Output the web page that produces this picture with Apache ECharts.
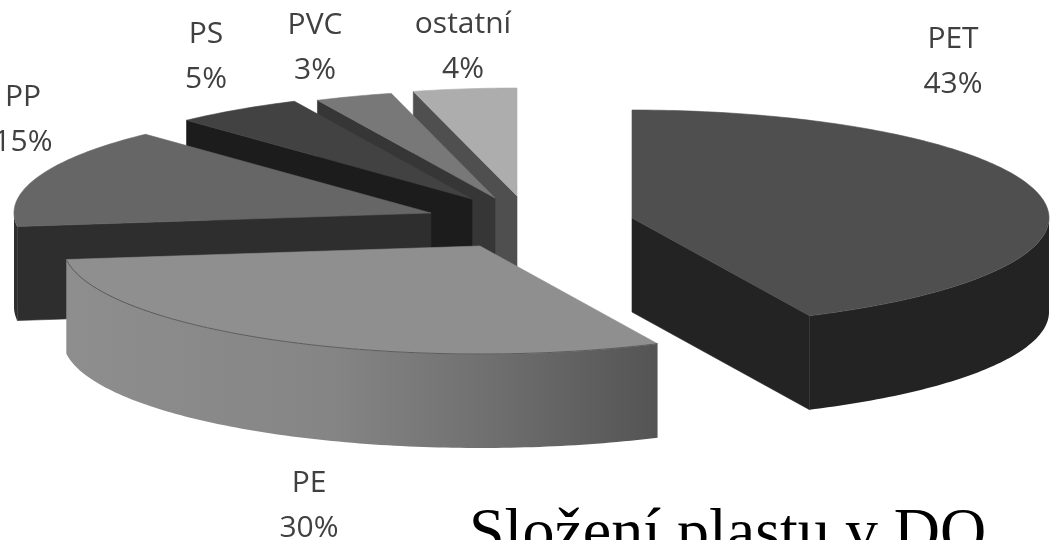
<!DOCTYPE html>
<html>
<head>
<meta charset="utf-8">
<style>
  html, body { margin: 0; padding: 0; background: #fff; overflow: hidden; }
  #chart { width: 1055px; height: 540px; }
</style>
</head>
<body>
<div id="chart"></div>
<script src="https://cdn.jsdelivr.net/npm/echarts@6/dist/echarts.min.js"></script>
<script>
// 数据
const categories = ['PET', 'PE', 'PP', 'PS', 'PVC', 'ostatní']
const shares = [43, 30, 15, 5, 3, 4]
const titleText = 'Složení plastu v DO'

// back to front
const drawOrder = [0, 5, 4, 3, 2, 1]

// 样式 / 位置
const rx = 417
const ry = 108
const depth = 94
const apex = [[632, 218], [480, 246], [431, 213], [472, 199], [495, 198], [517, 196]]
const labelPos = [[953, 37], [309, 481], [23, 95], [206, 32], [315, 23], [463, 22]]
const topColors = ['#4f4f4f', '#8f8f8f', '#666666', '#424242', '#787878', '#adadad']
const faceColors = ['#232323', '#8c8c8c', '#2e2e2e', '#1c1c1c', '#363636', '#4f4f4f']

const chart = echarts.init(document.getElementById('chart'))

const total = shares.reduce((a, b) => a + b, 0)
const startAngles = []
shares.reduce((sum, v, i) => {
  startAngles[i] = sum / total * 360
  return sum + v
}, 0)

function rimPoint(c, deg, drop) {
  const t = deg * Math.PI / 180
  return [c[0] + rx * Math.sin(t), c[1] - ry * Math.cos(t) + (drop || 0)]
}

function arcPoints(c, from, to, drop) {
  const pts = []
  for (let a = from; a < to; a += 1) pts.push(rimPoint(c, a, drop))
  pts.push(rimPoint(c, to, drop))
  return pts
}

function poly(points, fill, stroke) {
  return {
    type: 'polygon',
    shape: { points: points },
    style: { fill: fill, stroke: stroke || fill, lineWidth: 0.6 },
    silent: true
  }
}

function sideFace(c, deg, fill) {
  const p = rimPoint(c, deg)
  const q = rimPoint(c, deg, depth)
  return poly([c, p, q, [c[0], c[1] + depth]], fill)
}

function renderSlice(params, api) {
  const i = api.value(0)
  const value = api.value(1)
  const from = startAngles[i]
  const to = from + value / total * 360
  const c = apex[i]
  const children = []
  const isPE = categories[i] === 'PE'

  // 切面
  if (Math.sin(to * Math.PI / 180) > 0.001) children.push(sideFace(c, to, faceColors[i]))
  if (-Math.sin(from * Math.PI / 180) > 0.001) children.push(sideFace(c, from, faceColors[i]))

  // 外壁
  const wallFrom = Math.max(from, 90)
  const wallTo = Math.min(to, 270)
  if (wallFrom < wallTo) {
    const upper = arcPoints(c, wallFrom, wallTo, 0)
    const lower = arcPoints(c, wallFrom, wallTo, depth).reverse()
    const fill = isPE
      ? new echarts.graphic.LinearGradient(0, 0, 1, 0, [
          { offset: 0, color: '#8e8e8e' },
          { offset: 0.45, color: '#858585' },
          { offset: 0.72, color: '#6f6f6f' },
          { offset: 1, color: '#545454' }
        ])
      : faceColors[i]
    children.push({
      type: 'polygon',
      shape: { points: upper.concat(lower) },
      style: { fill: fill },
      silent: true
    })
  }

  // 顶面
  children.push(poly([c].concat(arcPoints(c, from, to, 0)), topColors[i]))
  if (isPE) {
    children.push({
      type: 'polyline',
      shape: { points: arcPoints(c, from, to, 0) },
      style: { stroke: '#5c5c5c', lineWidth: 1, fill: 'none' },
      silent: true
    })
  }

  // 标签
  const lp = labelPos[i]
  children.push({
    type: 'text',
    silent: true,
    z2: 100,
    style: {
      x: lp[0],
      y: lp[1] - 20,
      text: categories[i] + '\n' + value + '%',
      align: 'center',
      verticalAlign: 'top',
      fill: '#404040',
      font: '30px "Open Sans"',
      lineHeight: 45
    }
  })

  return { type: 'group', children: children }
}

const option = {
  backgroundColor: '#ffffff',
  animation: false,
  title: {
    text: titleText,
    left: 469,
    top: 503,
    padding: 0,
    textStyle: {
      fontFamily: 'Liberation Serif',
      fontWeight: 'normal',
      fontSize: 64,
      color: '#000000'
    }
  },
  series: [
    {
      type: 'custom',
      coordinateSystem: 'none',
      renderItem: renderSlice,
      encode: { value: 1 },
      data: drawOrder.map(i => [i, shares[i]])
    }
  ]
}

chart.setOption(option)
</script>
</body>
</html>
